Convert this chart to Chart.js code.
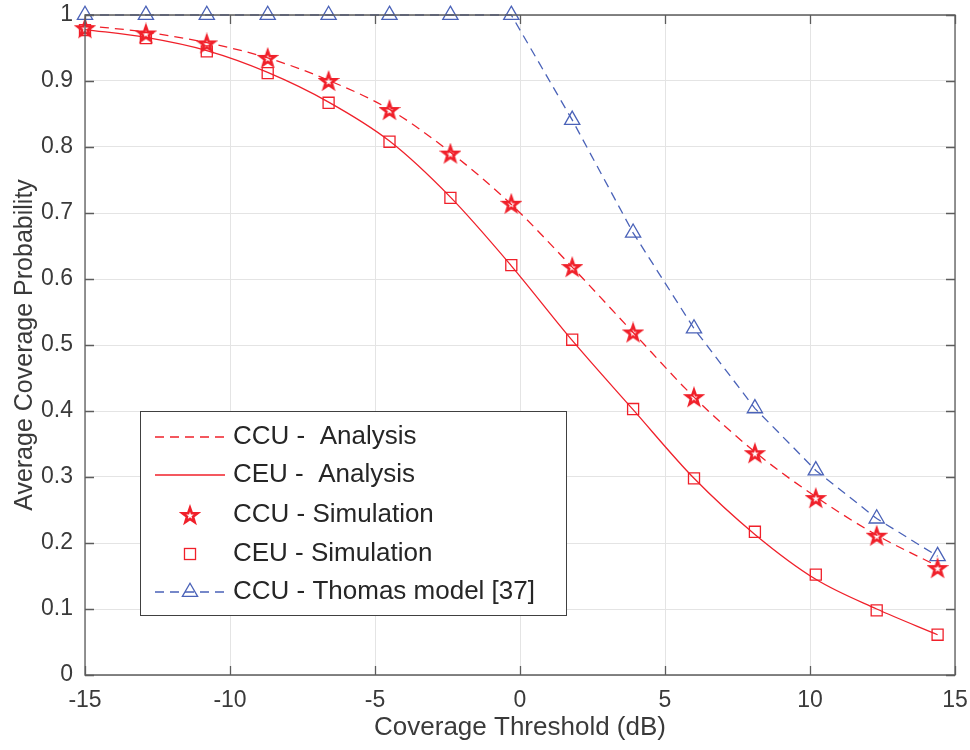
<!DOCTYPE html>
<html>
<head>
<meta charset="utf-8">
<title>Average Coverage Probability</title>
<script src="https://cdn.jsdelivr.net/npm/chart.js@4.4.1/dist/chart.umd.min.js"></script>
<style>
  html, body { margin: 0; padding: 0; background: #ffffff; }
  canvas { display: block; }
</style>
</head>
<body>
<canvas id="coverageChart" width="970" height="750"></canvas>
<script>
// Coverage threshold (dB) at each sample
const thresholds = [-15, -12.9, -10.8, -8.7, -6.6, -4.5, -2.4, -0.3, 1.8, 3.9, 6.0, 8.1, 10.2, 12.3, 14.4];

// Average coverage probability per curve
const ccuAnalysis   = [0.984, 0.974, 0.958, 0.935, 0.901, 0.857, 0.792, 0.713, 0.618, 0.519, 0.421, 0.338, 0.270, 0.212, 0.165];
const ceuAnalysis   = [0.978, 0.966, 0.946, 0.913, 0.868, 0.809, 0.724, 0.620, 0.507, 0.402, 0.298, 0.213, 0.145, 0.100, 0.061];
const ccuSimulation = [0.980, 0.972, 0.957, 0.935, 0.900, 0.856, 0.790, 0.714, 0.618, 0.519, 0.421, 0.336, 0.268, 0.211, 0.162];
const ceuSimulation = [0.977, 0.965, 0.945, 0.912, 0.867, 0.808, 0.723, 0.621, 0.508, 0.403, 0.298, 0.217, 0.152, 0.098, 0.061];
const thomasModel   = [1, 1, 1, 1, 1, 1, 1, 1, 0.841, 0.670, 0.525, 0.404, 0.310, 0.237, 0.180];

const seriesLabels = [
    'CCU -  Analysis',
    'CEU -  Analysis',
    'CCU - Simulation',
    'CEU - Simulation',
    'CCU - Thomas model [37]'
];

const xTicks = [-15, -10, -5, 0, 5, 10, 15];

const RED = '#f0202a';
const BLUE = '#4a62b8';
const AXIS = '#5c5c5c';
const TEXT = '#3a3a3a';
const FONT = '"Liberation Sans", Arial, Helvetica, sans-serif';

function toPoints(ys) {
    return thresholds.map((x, i) => ({ x: x, y: ys[i] }));
}

// Pentagram marker drawn once on its own canvas, used as a pointStyle
function makePentagram(color, outer) {
    const size = Math.ceil(outer * 2 + 6);
    const c = document.createElement('canvas');
    c.width = size;
    c.height = size;
    const ctx = c.getContext('2d');
    const cx = size / 2, cy = size / 2 + 0.7;
    const inner = outer * 0.4;
    ctx.beginPath();
    for (let i = 0; i < 10; i++) {
        const r = i % 2 === 0 ? outer : inner;
        const a = -Math.PI / 2 + i * Math.PI / 5;
        const px = cx + r * Math.cos(a);
        const py = cy + r * Math.sin(a);
        if (i === 0) ctx.moveTo(px, py); else ctx.lineTo(px, py);
    }
    ctx.closePath();
    ctx.lineJoin = 'miter';
    ctx.strokeStyle = color;
    ctx.lineWidth = 2.6;
    ctx.stroke();
    return c;
}

const starMarker = makePentagram(RED, 7.8);

function drawTriangle(ctx, x, y, r) {
    ctx.beginPath();
    ctx.moveTo(x, y - r);
    ctx.lineTo(x + r * Math.sin(Math.PI / 3), y + r / 2);
    ctx.lineTo(x - r * Math.sin(Math.PI / 3), y + r / 2);
    ctx.closePath();
    ctx.stroke();
}

// Box around the axes with inward tick marks, like a boxed plot
const boxAxesPlugin = {
    id: 'boxAxes',
    afterDatasetsDraw(chart) {
        const { ctx, chartArea: a, scales } = chart;
        const tick = 9;
        ctx.save();
        ctx.strokeStyle = AXIS;
        ctx.lineWidth = 1.3;
        ctx.beginPath();
        ctx.rect(a.left, a.top, a.right - a.left, a.bottom - a.top);
        ctx.stroke();
        ctx.beginPath();
        scales.x.ticks.forEach(t => {
            const px = Math.round(scales.x.getPixelForValue(t.value)) + 0.5;
            ctx.moveTo(px, a.bottom); ctx.lineTo(px, a.bottom - tick);
            ctx.moveTo(px, a.top); ctx.lineTo(px, a.top + tick);
        });
        scales.y.ticks.forEach(t => {
            const py = Math.round(scales.y.getPixelForValue(t.value)) + 0.5;
            ctx.moveTo(a.left, py); ctx.lineTo(a.left + tick, py);
            ctx.moveTo(a.right, py); ctx.lineTo(a.right - tick, py);
        });
        ctx.stroke();
        ctx.restore();
    }
};

// Legend box placed inside the plot area
const insideLegendPlugin = {
    id: 'insideLegend',
    afterDraw(chart) {
        const ctx = chart.ctx;
        const box = { left: 140.5, top: 411.5, width: 426, height: 204 };
        const rows = [437, 475, 515, 554, 592];
        const lineStart = 155, lineEnd = 225, markX = 190, textX = 233;

        ctx.save();
        ctx.fillStyle = '#ffffff';
        ctx.fillRect(box.left, box.top, box.width, box.height);
        ctx.strokeStyle = '#404040';
        ctx.lineWidth = 1;
        ctx.strokeRect(box.left, box.top, box.width, box.height);

        chart.data.datasets.forEach((ds, i) => {
            const y = rows[i];
            ctx.strokeStyle = ds.borderColor;
            ctx.lineWidth = ds.borderWidth;
            if (ds.showLine !== false) {
                ctx.setLineDash(ds.borderDash || []);
                ctx.beginPath();
                ctx.moveTo(lineStart, y);
                ctx.lineTo(lineEnd, y);
                ctx.stroke();
                ctx.setLineDash([]);
            }
            if (ds.pointRadius > 0) {
                ctx.lineWidth = ds.pointBorderWidth;
                ctx.strokeStyle = ds.pointBorderColor;
                if (ds.pointStyle === 'triangle') {
                    drawTriangle(ctx, markX, y, ds.pointRadius);
                } else if (ds.pointStyle === 'rect') {
                    const h = ds.pointRadius * Math.SQRT1_2;
                    ctx.strokeRect(markX - h, y - h, 2 * h, 2 * h);
                } else if (ds.pointStyle instanceof HTMLCanvasElement) {
                    const s = ds.pointStyle;
                    ctx.drawImage(s, markX - s.width / 2, y - s.height / 2);
                }
            }
            ctx.fillStyle = '#262626';
            ctx.font = '26px ' + FONT;
            ctx.textBaseline = 'middle';
            ctx.textAlign = 'left';
            ctx.fillText(seriesLabels[i], textX, y);
        });
        ctx.restore();
    }
};

const ctx = document.getElementById('coverageChart').getContext('2d');

new Chart(ctx, {
    type: 'scatter',
    data: {
        datasets: [
            {
                label: seriesLabels[0],
                data: toPoints(ccuAnalysis),
                showLine: true,
                borderColor: RED,
                borderWidth: 1.3,
                borderDash: [9, 6],
                cubicInterpolationMode: 'monotone',
                pointRadius: 0,
                pointBorderWidth: 0,
                pointBorderColor: RED
            },
            {
                label: seriesLabels[1],
                data: toPoints(ceuAnalysis),
                showLine: true,
                borderColor: RED,
                borderWidth: 1.3,
                cubicInterpolationMode: 'monotone',
                pointRadius: 0,
                pointBorderWidth: 0,
                pointBorderColor: RED
            },
            {
                label: seriesLabels[2],
                data: toPoints(ccuSimulation),
                showLine: false,
                borderColor: RED,
                borderWidth: 0,
                pointStyle: starMarker,
                pointRadius: 8,
                pointBorderWidth: 2,
                pointBorderColor: RED,
                pointBackgroundColor: 'rgba(0,0,0,0)'
            },
            {
                label: seriesLabels[3],
                data: toPoints(ceuSimulation),
                showLine: false,
                borderColor: RED,
                borderWidth: 0,
                pointStyle: 'rect',
                pointRadius: 7.8,
                pointBorderWidth: 1.3,
                pointBorderColor: RED,
                pointBackgroundColor: 'rgba(0,0,0,0)'
            },
            {
                label: seriesLabels[4],
                data: toPoints(thomasModel),
                showLine: true,
                borderColor: BLUE,
                borderWidth: 1.3,
                borderDash: [9, 6],
                pointStyle: 'triangle',
                pointRadius: 8.8,
                pointBorderWidth: 1.3,
                pointBorderColor: BLUE,
                pointBackgroundColor: 'rgba(0,0,0,0)'
            }
        ]
    },
    options: {
        responsive: false,
        animation: false,
        clip: false,
        layout: {
            padding: { top: 15, right: 15, left: 0, bottom: 0 }
        },
        scales: {
            x: {
                type: 'linear',
                min: -15,
                max: 15,
                afterFit: scale => {
                    scale.height = 75;
                    scale.paddingLeft = 0;
                    scale.paddingRight = 0;
                },
                afterBuildTicks: scale => {
                    scale.ticks = xTicks.map(v => ({ value: v }));
                },
                grid: {
                    color: '#e4e4e4',
                    lineWidth: 1,
                    drawTicks: false
                },
                border: { display: false },
                ticks: {
                    color: TEXT,
                    padding: 12,
                    maxRotation: 0,
                    font: { size: 23, family: FONT }
                },
                title: {
                    display: true,
                    text: 'Coverage Threshold (dB)',
                    color: TEXT,
                    padding: { top: 7, bottom: 7 },
                    font: { size: 26, family: FONT }
                }
            },
            y: {
                type: 'linear',
                min: 0,
                max: 1,
                afterFit: scale => {
                    scale.width = 85;
                    scale.paddingTop = 0;
                    scale.paddingBottom = 0;
                },
                grid: {
                    color: '#e4e4e4',
                    lineWidth: 1,
                    drawTicks: false
                },
                border: { display: false },
                ticks: {
                    stepSize: 0.1,
                    color: TEXT,
                    padding: 12,
                    font: { size: 23, family: FONT },
                    callback: value => String(Math.round(value * 10) / 10)
                },
                title: {
                    display: true,
                    text: 'Average Coverage Probability',
                    color: TEXT,
                    padding: { top: 10, bottom: 10 },
                    font: { size: 25, family: FONT }
                }
            }
        },
        plugins: {
            legend: { display: false },
            tooltip: { enabled: false }
        }
    },
    plugins: [boxAxesPlugin, insideLegendPlugin]
});
</script>
</body>
</html>
